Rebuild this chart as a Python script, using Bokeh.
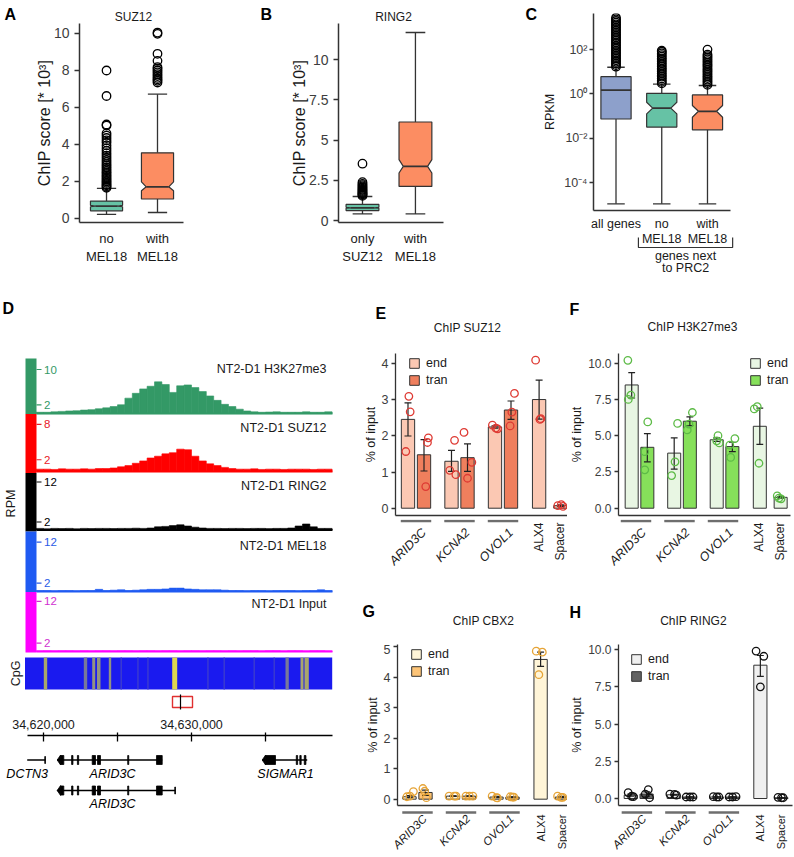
import math
from bokeh.plotting import figure
from bokeh.models import (Range1d, FixedTicker, Label, Legend, LegendItem,
                          PrintfTickFormatter, CustomJSTickFormatter, NumeralTickFormatter,
                          LinearColorMapper, ColumnDataSource)
from bokeh.layouts import row, column
from bokeh.embed import file_html
from bokeh.resources import INLINE

# =============================== DATA ===============================
# ---- Panel A: SUZ12 ChIP score [* 10^3]
A_categories = ["no\nMEL18", "with\nMEL18"]
A_whisker_low = [0.22, 0.32]
A_q1 = [0.41, 1.05]
A_median = [0.67, 1.71]
A_q3 = [0.94, 3.55]
A_whisker_high = [1.62, 6.72]
A_notch_low = [0.63, 1.50]
A_notch_high = [0.71, 1.98]
A_outliers_no = [1.66, 1.72, 1.79, 1.85, 1.93, 2.0, 2.08, 2.15, 2.24, 2.31, 2.4, 2.49, 2.57,
                 2.66, 2.75, 2.85, 2.94, 3.05, 3.16, 3.28, 3.4, 3.53, 3.66, 3.8, 3.95, 4.1,
                 4.22, 4.35, 4.48, 4.6, 5.02, 5.08, 6.62, 8.0]
A_outliers_with = [7.35, 7.44, 7.52, 7.6, 7.7, 7.8, 7.9, 8.0, 8.1, 8.18, 8.52, 8.9, 9.98, 10.05]

# ---- Panel B: RING2 ChIP score [* 10^3]
B_categories = ["only\nSUZ12", "with\nMEL18"]
B_whisker_low = [0.41, 0.41]
B_q1 = [0.62, 2.12]
B_median = [0.79, 3.36]
B_q3 = [1.0, 6.12]
B_whisker_high = [1.49, 11.68]
B_notch_low = [0.76, 2.95]
B_notch_high = [0.82, 3.78]
B_outliers_only = [1.53, 1.58, 1.63, 1.68, 1.73, 1.79, 1.85, 1.91, 1.98, 2.05, 2.12, 2.2,
                   2.27, 2.38, 3.53]
B_outliers_with = []

# ---- Panel C: RPKM
C_categories = ["all genes", "no\nMEL18", "with\nMEL18"]
C_group_label = ["genes next", "to PRC2"]
C_whisker_low = [1.1e-5, 1.1e-5, 1.1e-5]
C_q1 = [0.074, 0.032, 0.024]
C_median = [1.5, 0.23, 0.165]
C_q3 = [6.0, 1.07, 0.9]
C_whisker_high = [16.0, 2.8, 2.4]
C_notch_low = [1.5, 0.126, 0.089]
C_notch_high = [1.5, 0.42, 0.30]
C_outliers_all = [17, 20, 24, 28, 33, 39, 46, 55, 65, 77, 91, 108, 128, 152, 180, 214, 254,
                  300, 356, 422, 500, 594, 704, 835, 990, 1175, 1390, 1650, 1960, 2320, 2750]
C_outliers_no = [3.0, 3.5, 4.2, 5.0, 6.0, 7.0, 8.4, 10, 12, 14, 17, 20, 24, 28, 34, 40, 48,
                 57, 68, 80, 90]
C_outliers_with = [2.6, 3.1, 3.7, 4.4, 5.2, 6.2, 7.4, 8.8, 10.5, 12.5, 15, 18, 21, 25, 30,
                   36, 43, 51, 60, 100]

# ---- Panel D: browser tracks (RPM per 500 bp bin from 34,619,500)
BIN_START = 34619500
BIN_SIZE = 500
TRACK_H3K27ME3 = [0.3, 0.3, 0.4, 0.5, 0.6, 0.65, 0.8, 0.9, 1.1, 1.3,
                  1.6, 2.0, 3.5, 4.6, 5.6, 6.2, 7.2, 6.6, 4.8, 6.3,
                  6.5, 5.9, 5.0, 4.0, 3.0, 2.1, 1.6, 1.0, 0.6, 0.4,
                  0.3, 0.35, 0.4, 0.3, 0.3, 0.3, 0.4, 0.3, 0.3, 0.4]
TRACK_SUZ12 = [0.4, 0.4, 0.35, 0.45, 0.4, 0.4, 0.45, 0.4, 0.5, 0.5,
               0.6, 0.8, 1.0, 1.4, 1.8, 2.3, 2.6, 3.0, 3.2, 3.8,
               3.7, 2.6, 1.8, 1.3, 1.0, 0.7, 0.5, 0.4, 0.4, 0.45,
               0.35, 0.4, 0.4, 0.35, 0.4, 0.4, 0.4, 0.35, 0.4, 0.4]
TRACK_RING2 = [0.4, 0.3, 0.4, 0.35, 0.4, 0.3, 0.4, 0.35, 0.4, 0.4,
               0.35, 0.4, 0.4, 0.45, 0.4, 0.5, 0.8, 0.9, 1.1, 1.3,
               1.0, 0.7, 0.5, 0.4, 0.4, 0.35, 0.4, 0.4, 0.35, 0.4,
               0.4, 0.35, 0.4, 0.4, 0.5, 1.0, 1.5, 0.8, 0.4, 0.4]
TRACK_MEL18 = [0.2, 0.2, 0.15, 0.2, 0.2, 0.15, 0.2, 0.2, 0.5, 0.2,
               0.3, 0.4, 0.2, 0.3, 0.4, 0.5, 0.5, 0.6, 0.8, 0.8,
               0.6, 0.5, 0.4, 0.4, 0.4, 0.3, 0.2, 0.2, 0.15, 0.2,
               0.2, 0.15, 0.2, 0.2, 0.2, 0.15, 0.2, 0.2, 0.4, 0.2]
TRACK_INPUT = [0.15, 0.2, 0.15, 0.2, 0.2, 0.15, 0.2, 0.15, 0.2, 0.2,
               0.15, 0.2, 0.2, 0.15, 0.2, 0.2, 0.15, 0.2, 0.2, 0.15,
               0.2, 0.2, 0.15, 0.2, 0.2, 0.15, 0.2, 0.15, 0.2, 0.2,
               0.15, 0.2, 0.2, 0.15, 0.2, 0.2, 0.15, 0.2, 0.2, 0.15]
TICKS_H3K27ME3 = [10, 2]
TICKS_SUZ12 = [8, 2]
TICKS_RING2 = [12, 2]
TICKS_MEL18 = [12, 2]
TICKS_INPUT = [12, 2]

CPG_START = [34620020, 34622723, 34623291, 34623615, 34624412, 34628696, 34636351, 34637365,
             34637635, 34625203, 34626331, 34627007, 34631061, 34632162, 34634189, 34635540]
CPG_END = [34620250, 34622953, 34623493, 34623851, 34624574, 34629034, 34636574, 34637568,
           34637926, 34625303, 34626431, 34627107, 34631161, 34632262, 34634289, 34635640]
CPG_SCORE = [0.6, 0.35, 0.55, 0.5, 0.55, 0.95, 0.4, 0.6, 0.65, 0.18, 0.18, 0.18, 0.18, 0.18,
             0.18, 0.18]
AMPLICON_START = 34628716
AMPLICON_END = 34630068
AMPLICON_MARK = 34629257

RULER_TICKS = [34620000, 34625000, 34630000, 34635000]
RULER_LABELED = [34620000, 34630000]

GENE_NAMES = ["DCTN3", "ARID3C", "ARID3C", "SIGMAR1"]
GENE_ROW = [1, 1, 2, 1]
GENE_TX_START = [34618899, 34620926, 34620926, 34634777]
GENE_TX_END = [34620135, 34628021, 34628919, 34637818]
GENE_EXON_STARTS = [[34620085],
                    [34620926, 34621900, 34622290, 34623291, 34623649, 34625690, 34627635],
                    [34620926, 34621900, 34622290, 34623291, 34623649, 34625690, 34627635, 34628870],
                    [34634777, 34637080, 34637320, 34637620]]
GENE_EXON_ENDS = [[34620135],
                  [34621372, 34621990, 34622375, 34623514, 34623851, 34625760, 34628021],
                  [34621372, 34621990, 34622375, 34623514, 34623851, 34625760, 34628021, 34628919],
                  [34635676, 34637170, 34637410, 34637730]]
GENE_EXON_KIND = [["utr"],
                  ["cds"] * 7,
                  ["cds"] * 7 + ["utr"],
                  ["cds"] * 4]
GENE_STRAND_ARROW = [False, True, True, True]
GENE_LABEL_POS = [34618899, 34624662, 34624662, 34636351]

# ---- Panels E-H: % of input
QPCR_GENES = ["ARID3C", "KCNA2", "OVOL1", "ALX4", "Spacer"]
QPCR_ITALIC = [True, True, True, False, False]
LEGEND_LABELS = ["end", "tran"]

E_end_mean = [2.46, 1.30, 2.25, 3.01, 0.07]
E_end_err_low = [2.00, 1.02, 2.22, 2.47, 0.05]
E_end_err_high = [2.92, 1.60, 2.28, 3.55, 0.09]
E_end_points = [[3.10, 2.67, 1.57], [1.88, 1.05, 0.93], [2.30, 2.22, 2.20], [4.10, 2.48, 2.46], [0.07, 0.10, 0.05]]
E_tran_mean = [1.48, 1.40, 2.72]
E_tran_err_low = [1.03, 1.02, 2.46]
E_tran_err_high = [1.90, 1.78, 2.97]
E_tran_points = [[1.95, 1.82, 0.60], [2.10, 1.27, 0.83], [3.18, 2.66, 2.28]]

F_end_mean = [8.50, 3.80, 4.72, 5.65, 0.75]
F_end_err_low = [7.60, 2.70, 4.60, 4.40, 0.70]
F_end_err_high = [9.35, 4.85, 4.85, 6.90, 0.80]
F_end_points = [[10.2, 7.8, 7.5], [5.85, 3.2, 2.25], [5.0, 4.65, 4.5], [7.0, 6.85, 3.1], [0.85, 0.7, 0.65]]
F_tran_mean = [4.20, 6.00, 4.25]
F_tran_err_low = [3.20, 5.70, 3.90]
F_tran_err_high = [5.15, 6.30, 4.55]
F_tran_points = [[5.95, 3.9, 2.65], [6.6, 5.8, 5.4], [4.8, 4.35, 3.5]]

G_end_mean = [0.08, 0.10, 0.07, 4.58, 0.07]
G_end_err_low = [0.05, 0.09, 0.05, 4.35, 0.05]
G_end_err_high = [0.12, 0.11, 0.09, 4.82, 0.09]
G_end_points = [[0.08, 0.25, 0.10], [0.10, 0.10, 0.10], [0.10, 0.05, 0.04], [4.85, 4.82, 4.08], [0.10, 0.06, 0.06]]
G_tran_mean = [0.22, 0.10, 0.07]
G_tran_err_low = [0.12, 0.09, 0.06]
G_tran_err_high = [0.30, 0.11, 0.08]
G_tran_points = [[0.35, 0.26, 0.05], [0.10, 0.10, 0.10], [0.08, 0.07, 0.07]]

H_end_mean = [0.22, 0.25, 0.10, 8.95, 0.05]
H_end_err_low = [0.15, 0.22, 0.09, 8.20, 0.04]
H_end_err_high = [0.30, 0.28, 0.11, 9.60, 0.06]
H_end_points = [[0.40, 0.15, 0.12], [0.30, 0.28, 0.22], [0.12, 0.10, 0.10], [9.90, 9.55, 7.50], [0.08, 0.05, 0.05]]
H_tran_mean = [0.30, 0.10, 0.10]
H_tran_err_low = [0.15, 0.09, 0.09]
H_tran_err_high = [0.45, 0.11, 0.11]
H_tran_points = [[0.60, 0.30, 0.05], [0.10, 0.10, 0.10], [0.10, 0.10, 0.12]]

# point jitter (layout)
E_end_jit = [[0.02, 0.05, -0.05], [0.07, -0.04, 0.10], [-0.06, 0.02, 0.06], [-0.08, 0.04, 0.02], [-0.06, 0.02, 0.06]]
E_tran_jit = [[0.10, 0.08, 0.04], [-0.08, 0.10, 0.0], [0.08, 0.02, -0.02]]
F_end_jit = [[-0.09, -0.02, -0.08], [0.08, 0.02, -0.06], [0.03, 0.0, 0.06], [-0.06, -0.13, -0.02], [-0.08, -0.04, 0.01]]
F_tran_jit = [[0.01, -0.06, -0.06], [0.06, -0.02, -0.06], [0.06, -0.06, -0.04]]
G_end_jit = [[-0.06, 0.09, 0.01], [-0.09, 0.03, 0.07], [-0.10, 0.0, 0.02], [-0.10, 0.04, -0.04], [-0.10, -0.02, 0.02]]
G_tran_jit = [[-0.06, -0.02, 0.02], [-0.07, 0.01, 0.09], [-0.05, 0.0, 0.03]]
H_end_jit = [[-0.06, 0.02, 0.06], [-0.09, 0.02, 0.06], [-0.08, 0.0, 0.05], [-0.10, 0.08, 0.0], [-0.08, 0.0, 0.04]]
H_tran_jit = [[0.04, -0.03, 0.07], [-0.08, 0.01, 0.08], [-0.08, 0.0, 0.08]]

# =============================== STYLE ===============================
FONT = "Liberation Sans"
INK = "#1a1a1a"
AXIS = "#333333"
TICKC = "#3d3d3d"
TEAL = "#66C2A5"
ORANGE = "#FC8D62"
PURPLE = "#8DA0CB"
CPG_PALETTE = ["#1a1aef", "#3a3ad0", "#5858b0", "#78789a", "#929282", "#a8a66c",
               "#bcb860", "#cec858", "#ded652"]


def make_fig(w, h, fl, ft, fw, fh, xr, yr, ylog=False, xloc="below", yloc="left"):
    p = figure(width=w, height=h, x_range=Range1d(*xr), y_range=Range1d(*yr),
               y_axis_type="log" if ylog else "linear",
               x_axis_location=xloc, y_axis_location=yloc,
               output_backend="svg", toolbar_location=None, tools="")
    p.frame_align = False
    p.min_border_left = fl
    p.min_border_top = ft
    p.min_border_right = w - fl - fw
    p.min_border_bottom = h - ft - fh
    p.outline_line_color = None
    p.background_fill_color = "white"
    p.border_fill_color = "white"
    p.grid.visible = False
    return p


def strip(w, h, xr=None):
    """A figure whose frame is the whole area; y measured in pixels from its top."""
    return make_fig(w, h, 0, 0, w, h, xr if xr else (0, w), (h, 0), xloc=None, yloc=None)


def label(p, text, x, y, size="12px", align="center", baseline="middle", angle=0,
          style="normal", color=INK, y_range_name="default"):
    p.add_layout(Label(x=x, y=y, text=text, text_font=FONT, text_font_size=size,
                       text_align=align, text_baseline=baseline, angle=angle,
                       angle_units="deg", text_font_style=style, text_color=color,
                       y_range_name=y_range_name))


def letter(p, text, x, y):
    label(p, text, x, y, size="16px", align="left", baseline="top", style="bold",
          color="black")


def style_axis(ax, tick_size, tick_out, standoff, lw, label_size="12px", label_standoff=2,
               label_color=TICKC):
    ax.axis_line_color = AXIS
    ax.axis_line_width = lw
    ax.major_tick_line_color = AXIS
    ax.major_tick_line_width = lw
    ax.major_tick_out = tick_out
    ax.major_tick_in = 0
    ax.minor_tick_line_color = None
    ax.major_label_text_font = FONT
    ax.major_label_text_font_size = tick_size
    ax.major_label_text_color = label_color
    ax.major_label_standoff = standoff
    ax.axis_label_text_font = FONT
    ax.axis_label_text_font_size = label_size
    ax.axis_label_text_font_style = "normal"
    ax.axis_label_text_color = INK
    ax.axis_label_standoff = label_standoff


def boxplot(p, xs, lo, q1, med, q3, hi, nlo, nhi, colors, bw, notched, inset, capw, outliers):
    h = bw / 2
    ch = capw * bw / 2
    for ya, yb in ((q3, hi), (q1, lo)):
        p.segment(x0=xs, y0=ya, x1=xs, y1=yb, line_color=AXIS, line_width=1.3)
    for yy in (hi, lo):
        p.segment(x0=[c - ch for c in xs], x1=[c + ch for c in xs], y0=yy, y1=yy,
                  line_color=AXIS, line_width=1.3)
    pxs, pys, mx0, mx1 = [], [], [], []
    for i, c in enumerate(xs):
        d = inset * bw if notched[i] else 0.0
        if notched[i]:
            pxs.append([c - h, c - h, c - h + d, c - h, c - h, c + h, c + h, c + h - d, c + h, c + h])
            pys.append([q1[i], nlo[i], med[i], nhi[i], q3[i], q3[i], nhi[i], med[i], nlo[i], q1[i]])
        else:
            pxs.append([c - h, c - h, c + h, c + h])
            pys.append([q1[i], q3[i], q3[i], q1[i]])
        mx0.append(c - h + d)
        mx1.append(c + h - d)
    p.patches(pxs, pys, fill_color=colors, line_color=AXIS, line_width=1.2)
    p.segment(x0=mx0, x1=mx1, y0=med, y1=med, line_color=AXIS, line_width=1.8)
    ox, oy = [], []
    for c, outs in zip(xs, outliers):
        ox += [c] * len(outs)
        oy += list(outs)
    p.scatter(ox, oy, marker="circle", size=8.5, fill_color=None, line_color="black",
              line_width=1.3)


# =============================== PANEL A ===============================
A_pos = [1, 2]
sA = strip(260, 23)
letter(sA, "A", 4, 5)
label(sA, "SUZ12", 133, 16, size="12px")
pA = make_fig(260, 267, 79, 0, 104, 199, (0.47, 2.51), (-0.22, 10.54))
boxplot(pA, A_pos, A_whisker_low, A_q1, A_median, A_q3, A_whisker_high, A_notch_low,
        A_notch_high, [TEAL, ORANGE], 0.63, [True, True], 0.15, 0.6,
        [A_outliers_no, A_outliers_with])
style_axis(pA.yaxis[0], "14px", 5, 5, 1.5, "16px", -2)
pA.yaxis[0].ticker = FixedTicker(ticks=[0, 2, 4, 6, 8, 10])
pA.yaxis[0].axis_label = "ChIP score [* 10\u00b3]"
style_axis(pA.xaxis[0], "13px", 0, 8, 1.5, label_color=INK)
pA.xaxis[0].ticker = FixedTicker(ticks=A_pos)
pA.xaxis[0].major_label_overrides = dict(zip(A_pos, A_categories))

# =============================== PANEL B ===============================
B_pos = [1, 2]
sB = strip(260, 23)
letter(sB, "B", 0, 5)
label(sB, "RING2", 133, 16, size="12px")
pB = make_fig(260, 267, 78, 0, 105, 199, (0.547, 2.53), (-0.124, 12.24))
boxplot(pB, B_pos, B_whisker_low, B_q1, B_median, B_q3, B_whisker_high, B_notch_low,
        B_notch_high, [TEAL, ORANGE], 0.62, [True, True], 0.13, 0.6,
        [B_outliers_only, B_outliers_with])
style_axis(pB.yaxis[0], "14px", 5, 5, 1.5, "16px", -2)
pB.yaxis[0].ticker = FixedTicker(ticks=[0, 2.5, 5, 7.5, 10])
pB.yaxis[0].formatter = CustomJSTickFormatter(code="return String(tick);")
pB.yaxis[0].axis_label = "ChIP score [* 10\u00b3]"
style_axis(pB.xaxis[0], "13px", 0, 8, 1.5, label_color=INK)
pB.xaxis[0].ticker = FixedTicker(ticks=B_pos)
pB.xaxis[0].major_label_overrides = dict(zip(B_pos, B_categories))

# =============================== PANEL C ===============================
C_pos = [1, 2, 3]
sC_left = strip(17, 290)
letter(sC_left, "C", 5, 5)
C_XR = (0.508, 3.503)
C_FL, C_FW, C_W = 56, 137, 257
C_PPU = C_FW / (C_XR[1] - C_XR[0])
pC = make_fig(C_W, 214, C_FL, 13, C_FW, 197, C_XR, (10 ** -5.26, 10 ** 3.63), ylog=True)
boxplot(pC, C_pos, C_whisker_low, C_q1, C_median, C_q3, C_whisker_high, C_notch_low,
        C_notch_high, [PURPLE, TEAL, ORANGE], 0.66, [False, True, True], 0.2, 0.58,
        [C_outliers_all, C_outliers_no, C_outliers_with])
style_axis(pC.yaxis[0], "12.5px", 4, 2, 1.5, "12.5px", 4)
pC.yaxis[0].ticker = FixedTicker(ticks=[1e-4, 1e-2, 1, 1e2])
pC.yaxis[0].formatter = CustomJSTickFormatter(code="""
const e = Math.round(Math.log10(tick));
const sup = {'-': '\u207b', '0': '\u2070', '1': '\u00b9', '2': '\u00b2', '3': '\u00b3',
             '4': '\u2074', '5': '\u2075', '6': '\u2076', '7': '\u2077', '8': '\u2078', '9': '\u2079'};
return '10' + String(e).split('').map(c => sup[c]).join('');
""")
pC.yaxis[0].axis_label = "RPKM"
style_axis(pC.xaxis[0], "1px", 0, 0, 1.5)
pC.xaxis[0].ticker = FixedTicker(ticks=[])
# strip below C sharing C's x scale (extended to the whole strip width)
sC_bot = strip(C_W, 76, (C_XR[0] - C_FL / C_PPU, C_XR[1] + (C_W - C_FL - C_FW) / C_PPU))
for xc, cat in zip(C_pos, C_categories):
    for k, line in enumerate(cat.split("\n")):
        label(sC_bot, line, xc, 9 + 15 * k, size="12.5px")
sC_bot.line(x=[1.49, 1.49, 3.55, 3.55], y=[23, 33, 33, 23], line_color=AXIS, line_width=1.2)
for k, line in enumerate(C_group_label):
    label(sC_bot, line, 2.52, 41 + 12 * k, size="12.5px")


# =============================== PANEL D ===============================
def g(refx):
    return 34620000 + (refx - 43) * 10000 / 148


def u(refy):
    return 712 - refy


pD1 = make_fig(340, 422, 0, 0, 340, 422, (g(0), g(340)), (0, 422), xloc=None, yloc=None)
TRACKS = [
    ("H3K27me3", TRACK_H3K27ME3, "#339966", "#339966", 358.0, 413.5, 413.1, 4.41, TICKS_H3K27ME3, 368),
    ("SUZ12", TRACK_SUZ12, "#ff0000", "#e8202a", 413.5, 472.5, 471.0, 5.88, TICKS_SUZ12, 427),
    ("RING2", TRACK_RING2, "#000000", "#000000", 472.5, 531.0, 529.5, 4.0, TICKS_RING2, 485),
    ("MEL18", TRACK_MEL18, "#1f5af2", "#2a5ae6", 531.0, 591.5, 590.9, 4.1, TICKS_MEL18, 545),
    ("Input", TRACK_INPUT, "#ff00ff", "#d030d0", 591.5, 652.0, 651.0, 4.17, TICKS_INPUT, 603),
]
bin_left = [BIN_START + i * BIN_SIZE for i in range(len(TRACK_H3K27ME3))]
bin_right = [b + BIN_SIZE for b in bin_left]
ranges = {}
for name, vals, col, tcol, top, bot, base, s, ticks, ly in TRACKS:
    ub = u(base)
    ranges["trk_" + name] = Range1d(-ub / s, (422 - ub) / s)
pD1.extra_y_ranges = ranges
for name, vals, col, tcol, top, bot, base, s, ticks, ly in TRACKS:
    key = "trk_" + name
    pD1.quad(left=[g(25)], right=[g(36)], bottom=[u(bot)], top=[u(top)], fill_color=col,
             line_color=None)
    pD1.quad(left=bin_left, right=bin_right, bottom=0, top=vals, fill_color=col,
             line_color=col, line_width=0.6, y_range_name=key)
    pD1.segment(x0=[g(36)], x1=[g(332)], y0=[0], y1=[0], line_color=col, line_width=2,
                y_range_name=key)
    pD1.segment(x0=[g(36)] * len(ticks), x1=[g(41)] * len(ticks), y0=ticks, y1=ticks,
                line_color=tcol, line_width=1.2, y_range_name=key)
    for t in ticks:
        label(pD1, str(t), g(43.5), t, size="11.5px", align="left", color=tcol,
              y_range_name=key)
    label(pD1, "NT2-D1 " + name, g(326), u(ly), size="12.5px", align="right")

# CpG density band
pD1.quad(left=[g(24.5)], right=[g(331.7)], bottom=[u(689)], top=[u(657)],
         fill_color=CPG_PALETTE[0], line_color=None)
cmap = LinearColorMapper(palette=CPG_PALETTE, low=0, high=1)
cpg_src = ColumnDataSource(dict(left=CPG_START, right=CPG_END, score=CPG_SCORE))
pD1.quad(left="left", right="right", bottom=u(689), top=u(657),
         fill_color={"field": "score", "transform": cmap}, line_color=None, source=cpg_src)
# amplicon
pD1.quad(left=[AMPLICON_START], right=[AMPLICON_END], bottom=[u(707)], top=[u(696)],
         fill_color=None, line_color="#e03030", line_width=1.4)
pD1.segment(x0=[AMPLICON_MARK], x1=[AMPLICON_MARK], y0=[u(709)], y1=[u(694)],
            line_color="black", line_width=1.2)
letter(pD1, "D", g(2), u(299))
label(pD1, "RPM", g(10), u(503), size="12.5px", angle=90)
label(pD1, "CpG", g(15), u(673), size="12.5px", angle=90)

# ruler
pR = make_fig(340, 33, 27, 23, 305, 10, (g(27), g(332)), (0, 10), xloc="above", yloc=None)
rax = pR.xaxis[0]
style_axis(rax, "12.5px", 3, 4, 1.3, label_color=INK)
rax.axis_line_color = "black"
rax.major_tick_line_color = "black"
rax.major_tick_in = 6
rax.ticker = FixedTicker(ticks=RULER_TICKS)
rax.formatter = NumeralTickFormatter(format="0,0")
rax.major_label_overrides = {t: "" for t in RULER_TICKS if t not in RULER_LABELED}

# genes (y in pixels from top of this strip)
pG2 = strip(340, 111, (g(0), g(340)))
ROW_V = {1: 14.5, 2: 45.0}
LABEL_V = {1: 28.0, 2: 58.0}
ex_l, ex_r, ex_b, ex_t, tip_x, tip_y = [], [], [], [], [], []
for name, rw, s0, e0, es, ee, kinds, arrow, lx in zip(GENE_NAMES, GENE_ROW, GENE_TX_START,
                                                      GENE_TX_END, GENE_EXON_STARTS,
                                                      GENE_EXON_ENDS, GENE_EXON_KIND,
                                                      GENE_STRAND_ARROW, GENE_LABEL_POS):
    v = ROW_V[rw]
    pG2.segment(x0=[s0], x1=[e0], y0=[v], y1=[v], line_color="black", line_width=1.3)
    for k, (a, b, kind) in enumerate(zip(es, ee, kinds)):
        hh = 4.5 if kind == "cds" else 3.5
        if arrow and k == 0:
            tip_x.append([a, a + 230, a + 230])
            tip_y.append([v, v + 5, v - 5])
            a = a + 230
        ex_l.append(a)
        ex_r.append(b)
        ex_b.append(v + hh)
        ex_t.append(v - hh)
    label(pG2, name, lx, LABEL_V[rw], size="12.5px", style="italic", color="black")
pG2.quad(left=ex_l, right=ex_r, bottom=ex_b, top=ex_t, fill_color="black", line_color="black",
         line_width=0.8)
pG2.patches(tip_x, tip_y, fill_color="black", line_color="black", line_width=0.8)

# =============================== PANELS E-H ===============================
GROUP_X = [1.0, 2.0, 3.0, 3.83, 4.32]
DODGE = 0.184
BAR_W = 0.306
CAP = 0.08
PPU = 43.5


def bar_panel(w, fl, fw, first_off, top_h, fh, bot_h, yr, end_mean, end_lo, end_hi, end_pts,
              end_jit, tran_mean, tran_lo, tran_hi, tran_pts, tran_jit, end_color, tran_color,
              pt_color, yticks, fmt, legend_loc, title, title_pos, let, let_pos, line_y,
              lab_y, vlab_y, tick_size, lab_size, vlab_size):
    xr = (1 - first_off / PPU, 1 - first_off / PPU + fw / PPU)
    top = strip(w, top_h)
    letter(top, let, let_pos[0], let_pos[1])
    label(top, title, title_pos[0], title_pos[1], size="12px")
    p = make_fig(w, fh + 4, fl, 0, fw, fh, xr, yr)
    n_t = len(tran_mean)
    ex = [GROUP_X[i] - DODGE if i < n_t else GROUP_X[i] for i in range(len(end_mean))]
    tx = [GROUP_X[i] + DODGE for i in range(n_t)]
    r_end = p.vbar(x=ex, top=end_mean, bottom=0, width=BAR_W, fill_color=end_color,
                   line_color=AXIS, line_width=1)
    r_tran = p.vbar(x=tx, top=tran_mean, bottom=0, width=BAR_W, fill_color=tran_color,
                    line_color=AXIS, line_width=1)
    allx = ex + tx
    lo = end_lo + tran_lo
    hi = end_hi + tran_hi
    p.segment(x0=allx, x1=allx, y0=lo, y1=hi, line_color="#222222", line_width=1.2)
    for yy in (hi, lo):
        p.segment(x0=[x - CAP for x in allx], x1=[x + CAP for x in allx], y0=yy, y1=yy,
                  line_color="#222222", line_width=1.2)
    px, py = [], []
    for xs_, pts, jit in ((ex, end_pts, end_jit), (tx, tran_pts, tran_jit)):
        for i, (vals, js) in enumerate(zip(pts, jit)):
            for vv, j in zip(vals, js):
                px.append(xs_[i] + j)
                py.append(vv)
    p.scatter(px, py, marker="circle", size=7.5, fill_color=None, line_color=pt_color,
              line_width=1.3)
    style_axis(p.yaxis[0], tick_size, 4, 3, 1.3, "12.5px", 1)
    p.yaxis[0].ticker = FixedTicker(ticks=yticks)
    if fmt:
        p.yaxis[0].formatter = PrintfTickFormatter(format=fmt)
    p.yaxis[0].axis_label = "% of input"
    style_axis(p.xaxis[0], "1px", 0, 0, 1.3)
    p.xaxis[0].ticker = FixedTicker(ticks=[])
    lg = Legend(items=[LegendItem(label=LEGEND_LABELS[0], renderers=[r_end]),
                       LegendItem(label=LEGEND_LABELS[1], renderers=[r_tran])],
                location=legend_loc, orientation="vertical")
    lg.border_line_color = None
    lg.background_fill_alpha = 0
    lg.padding = 0
    lg.margin = 0
    lg.spacing = 3
    lg.glyph_width = 12
    lg.glyph_height = 12
    lg.label_height = 12
    lg.label_standoff = 6
    lg.label_text_font = FONT
    lg.label_text_font_size = "12.5px"
    lg.label_text_color = INK
    p.add_layout(lg)
    # strip below, same x scale
    bot = strip(w, bot_h, (xr[0] - fl / PPU, xr[1] + (w - fl - fw) / PPU))
    for i in range(n_t):
        bot.segment(x0=[GROUP_X[i] - 0.35], x1=[GROUP_X[i] + 0.35], y0=[line_y], y1=[line_y],
                    line_color="#6e6e6e", line_width=2.5)
    for i, (gname, it) in enumerate(zip(QPCR_GENES, QPCR_ITALIC)):
        if i < n_t:
            label(bot, gname, GROUP_X[i] + 0.07, lab_y, size=lab_size, align="right",
                  baseline="top", angle=45, style="italic" if it else "normal")
        else:
            label(bot, gname, GROUP_X[i], vlab_y, size=vlab_size, align="right",
                  baseline="middle", angle=90, style="italic" if it else "normal")
    return column(top, p, bot)


cE = bar_panel(227, 55, 172, 20.5, 63, 162, 51, (-0.202, 4.285), E_end_mean, E_end_err_low,
               E_end_err_high, E_end_points, E_end_jit, E_tran_mean, E_tran_err_low,
               E_tran_err_high, E_tran_points, E_tran_jit, "#FBC8B3", "#EF7F5D", "#DE3A33",
               [0, 1, 2, 3, 4], None, (13, 128), "ChIP SUZ12", (127, 37), "E", (35, 14), 1.5,
               6, 3, "12.5px", "12.5px", "12px")
cF = bar_panel(227, 47, 176, 21.5, 63, 162, 51, (-0.503, 10.67), F_end_mean, F_end_err_low,
               F_end_err_high, F_end_points, F_end_jit, F_tran_mean, F_tran_err_low,
               F_tran_err_high, F_tran_points, F_tran_jit, "#E8F6E3", "#86E05A", "#5DBB47",
               [0, 2.5, 5, 7.5, 10], "%.1f", (131, 128), "ChIP H3K27me3", (125, 36), "F",
               (2, 10), 1.5, 6, 3, "12px", "12.5px", "12px")
cG = bar_panel(227, 57, 170, 20.0, 74, 161, 47, (-0.207, 5.07), G_end_mean, G_end_err_low,
               G_end_err_high, G_end_points, G_end_jit, G_tran_mean, G_tran_err_low,
               G_tran_err_high, G_tran_points, G_tran_jit, "#FFF5D8", "#FDC477", "#E6A437",
               [0, 1, 2, 3, 4, 5], None, (13, 127), "ChIP CBX2", (143, 50), "G", (22, 32), 3,
               3, 5, "12.5px", "11.5px", "11px")
cH = bar_panel(227, 49, 176, 20.4, 74, 161, 47, (-0.47, 10.34), H_end_mean, H_end_err_low,
               H_end_err_high, H_end_points, H_end_jit, H_tran_mean, H_tran_err_low,
               H_tran_err_high, H_tran_points, H_tran_jit, "#F0F0F0", "#636363", "#111111",
               [0, 2.5, 5, 7.5, 10], "%.1f", (12, 122), "ChIP RING2", (126, 50), "H", (2, 33),
               3, 3, 5, "12px", "11.5px", "11px")

layout = column(
    row(column(sA, pA), column(sB, pB), sC_left, column(pC, sC_bot)),
    row(column(pD1, pR, pG2), column(row(cE, cF), row(cG, cH))),
)

open("out.html", "w").write(file_html(layout, INLINE))
